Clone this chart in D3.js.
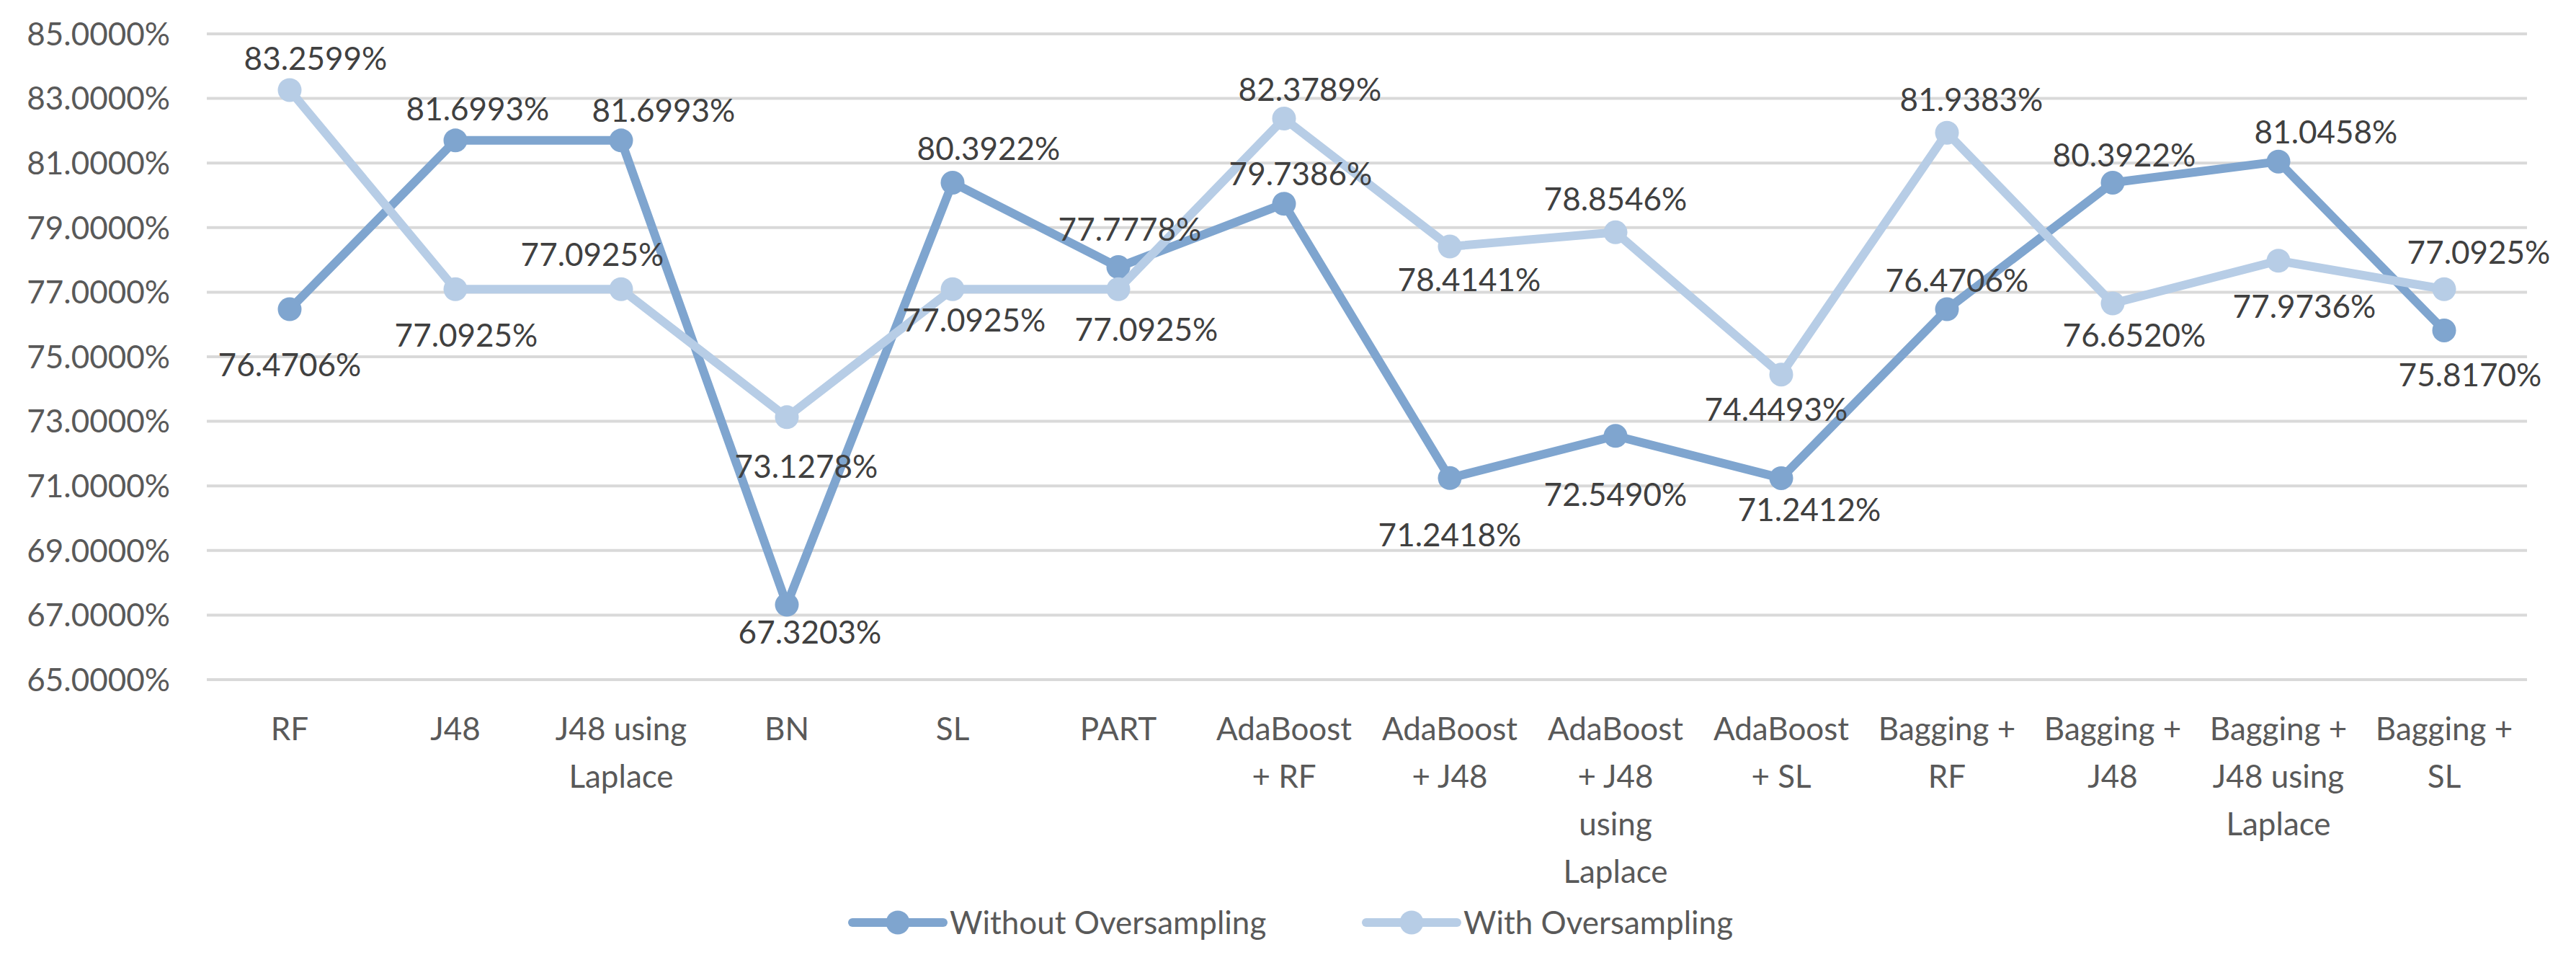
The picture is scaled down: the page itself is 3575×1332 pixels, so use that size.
<!DOCTYPE html>
<html>
<head>
<meta charset="utf-8">
<script src="https://cdn.jsdelivr.net/npm/d3@7"></script>
<style>
  body { margin: 0; background: #fff; }
  text { font-family: Lato, "Open Sans", sans-serif; }
</style>
</head>
<body>
<svg id="chart"></svg>
<script>
// categories (line breaks as in the original axis)
var categories = [
  "RF", "J48", "J48 using\nLaplace", "BN", "SL", "PART",
  "AdaBoost\n+ RF", "AdaBoost\n+ J48", "AdaBoost\n+ J48\nusing\nLaplace", "AdaBoost\n+ SL",
  "Bagging +\nRF", "Bagging +\nJ48", "Bagging +\nJ48 using\nLaplace", "Bagging +\nSL"
];

var withoutOversampling = [76.4706, 81.6993, 81.6993, 67.3203, 80.3922, 77.7778, 79.7386,
                           71.2418, 72.5490, 71.2412, 76.4706, 80.3922, 81.0458, 75.8170];
var withOversampling = [83.2599, 77.0925, 77.0925, 73.1278, 77.0925, 77.0925, 82.3789,
                        78.4141, 78.8546, 74.4493, 81.9383, 76.6520, 77.9736, 77.0925];

var seriesNames = ["Without Oversampling", "With Oversampling"];
var yTicks = [65, 67, 69, 71, 73, 75, 77, 79, 81, 83, 85];

// where each data label sits relative to its point (px)
var shiftWithout = [[0, 77], [31, -44], [59, -42], [32, 38], [50, -47], [16, -52], [23, -42],
                    [0, 79], [0, 81], [39, 44], [14, -40], [16, -38], [66, -41], [36, 62]];
var shiftWith = [[36, -44], [15, 64], [-40, -48], [27, 68], [30, 43], [39, 56], [36, -40],
                 [27, 46], [0, -46], [-7, 48], [34, -46], [30, 44], [36, 63], [48, -51]];

var width = 3575, height = 1332;
var colors = ["#7fa5cf", "#b7cde6"];

var svg = d3.select("#chart")
    .attr("width", width)
    .attr("height", height);

var x = d3.scaleBand()
    .domain(categories)
    .range([287, 3507]);

var y = d3.scaleLinear()
    .domain([65, 85])
    .range([943, 47]);

function cx(d, i) { return x(categories[i]) + x.bandwidth() / 2; }

// gridlines
svg.append("g").selectAll("line")
    .data(yTicks)
    .enter()
    .append("line")
    .attr("x1", 287)
    .attr("x2", 3507)
    .attr("y1", function(d) { return y(d); })
    .attr("y2", function(d) { return y(d); })
    .attr("stroke", "#d9d9d9")
    .attr("stroke-width", 4);

// y axis labels
svg.append("g").selectAll("text")
    .data(yTicks)
    .enter()
    .append("text")
    .attr("x", 236)
    .attr("y", function(d) { return y(d); })
    .attr("dy", "0.36em")
    .attr("text-anchor", "end")
    .attr("font-size", 44)
    .attr("fill", "#595959")
    .text(function(d) { return d.toFixed(4) + "%"; });

// x axis labels
var xLab = svg.append("g").selectAll("text")
    .data(categories)
    .enter()
    .append("text")
    .attr("text-anchor", "middle")
    .attr("font-size", 44)
    .attr("fill", "#595959");

xLab.each(function(d, i) {
    var lines = d.split("\n");
    d3.select(this).selectAll("tspan")
        .data(lines)
        .enter()
        .append("tspan")
        .attr("x", cx(d, i))
        .attr("y", function(l, j) { return 1011 + j * 66; })
        .attr("dy", "0.36em")
        .text(function(l) { return l; });
});

var line = d3.line()
    .x(function(d, i) { return cx(d, i); })
    .y(function(d) { return y(d); });

var allSeries = [withoutOversampling, withOversampling];

allSeries.forEach(function(values, s) {
    svg.append("path")
        .datum(values)
        .attr("d", line)
        .attr("fill", "none")
        .attr("stroke", colors[s])
        .attr("stroke-width", 12)
        .attr("stroke-linejoin", "round")
        .attr("stroke-linecap", "round");

    svg.append("g").selectAll("circle")
        .data(values)
        .enter()
        .append("circle")
        .attr("cx", function(d, i) { return cx(d, i); })
        .attr("cy", function(d) { return y(d); })
        .attr("r", 16.5)
        .attr("fill", colors[s]);
});

// data labels
var shifts = [shiftWithout, shiftWith];
allSeries.forEach(function(values, s) {
    svg.append("g").selectAll("text")
        .data(values)
        .enter()
        .append("text")
        .attr("x", function(d, i) { return cx(d, i) + shifts[s][i][0]; })
        .attr("y", function(d, i) { return y(d) + shifts[s][i][1]; })
        .attr("dy", "0.36em")
        .attr("text-anchor", "middle")
        .attr("font-size", 44)
        .attr("fill", "#404040")
        .text(function(d) { return d.toFixed(4) + "%"; });
});

// legend
var legendX = [1183, 1896];
var legend = svg.append("g").selectAll("g")
    .data(seriesNames)
    .enter()
    .append("g")
    .attr("transform", function(d, i) { return "translate(" + legendX[i] + ",1280)"; });

legend.append("line")
    .attr("x1", 0).attr("x2", 126)
    .attr("stroke", function(d, i) { return colors[i]; })
    .attr("stroke-width", 12)
    .attr("stroke-linecap", "round");

legend.append("circle")
    .attr("cx", 63)
    .attr("r", 16.5)
    .attr("fill", function(d, i) { return colors[i]; });

legend.append("text")
    .attr("x", 135)
    .attr("dy", "0.36em")
    .attr("font-size", 44)
    .attr("fill", "#595959")
    .text(function(d) { return d; });
</script>
</body>
</html>
